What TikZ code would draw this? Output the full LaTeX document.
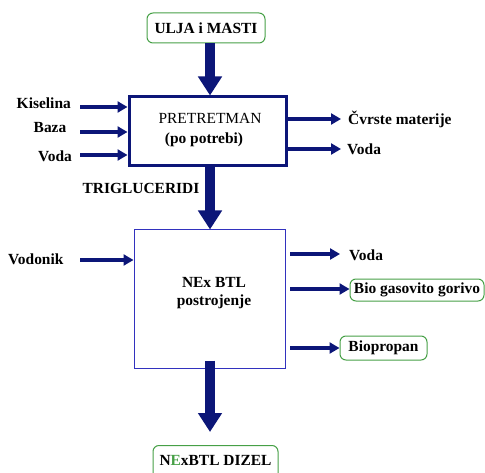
\documentclass[tikz,border=0pt]{standalone}
\usepackage{fontspec}
\setmainfont{Liberation Serif}
\usetikzlibrary{arrows.meta}
\definecolor{navy}{RGB}{12,22,120}
\definecolor{grn}{RGB}{70,160,70}
\definecolor{boxblue}{RGB}{50,50,190}
\begin{document}
\begin{tikzpicture}[x=1bp,y=-1bp,
  font=\fontsize{15.5}{18}\selectfont\bfseries,
  thinarrow/.style={navy, line width=4bp, -{Triangle[length=10bp,width=11bp]}},
  bigarrow/.style={navy, line width=10bp, -{Triangle[length=19bp,width=23bp]}},
  greenbox/.style={draw=grn, rounded corners=6bp, line width=1bp, inner sep=0pt},
  lbl/.style={inner sep=0pt}]
\useasboundingbox (0,0) rectangle (485,473);

% top input
\node[greenbox, minimum width=118bp, minimum height=30bp] (ulja) at (206,28) {ULJA i MASTI};

% pretreatment box
\node[draw=navy, line width=3bp, minimum width=157bp, minimum height=69bp] (pre) at (207.5,131.5) {};
\node[lbl] (pretxt) at (210,118) {\mdseries PRETRETMAN};
\node[lbl] (popot) at (204,140) {(po potrebi)};

% left inputs
\node[lbl, anchor=east] (kis) at (71,103) {Kiselina};
\node[lbl] (baza) at (50,128) {Baza};
\node[lbl] (voda1) at (55,156) {Voda};
\coordinate (k0) at (80,107);
\coordinate (b0) at (80,132);
\coordinate (v0) at (80,155);
\draw[thinarrow] (k0) -- (k0 -| pre.west);
\draw[thinarrow] (b0) -- (b0 -| pre.west);
\draw[thinarrow] (v0) -- (v0 -| pre.west);

% right outputs
\node[lbl, anchor=west] (cvrste) at (348,119) {Čvrste materije};
\node[lbl, anchor=west] (voda2) at (347,149) {Voda};
\draw[thinarrow] (pre.east |- cvrste.west) -- ([xshift=-7bp]cvrste.west);
\draw[thinarrow] (pre.east |- voda2.west) -- ([xshift=-6bp]voda2.west);

% top arrow
\draw[bigarrow] (ulja.south -| 210,0) -- (pre.north -| 210,0);

% triglyceride arrow
\node[lbl] (trig) at (141,188) {TRIGLUCERIDI};

% NEx BTL plant
\node[draw=boxblue, line width=1bp, minimum width=151bp, minimum height=138bp] (btl) at (209.5,299) {};
\node[lbl] (btl1) at (214,282) {NEx BTL};
\node[lbl] (btl2) at (214,302) {postrojenje};
\draw[bigarrow] (pre.south -| 210,0) -- (btl.north -| 210,0);

% hydrogen input
\node[lbl, anchor=west] (vodonik) at (8,259) {Vodonik};
\coordinate (h0) at (80,260);
\draw[thinarrow] (h0) -- (h0 -| btl.west);

% outputs of plant
\node[lbl, anchor=west] (voda3) at (349,255) {Voda};
\node[greenbox, minimum width=134bp, minimum height=22bp] (bio) at (417,290) {Bio gasovito gorivo};
\node[greenbox, minimum width=87bp, minimum height=24bp] (biop) at (383.5,348) {Biopropan};
\coordinate (o1) at (290,254);
\coordinate (o2) at (290,289);
\coordinate (o3) at (290,348);
\draw[thinarrow] (o1) -- (o1 -| 340,0);
\draw[thinarrow] (o2) -- (o2 -| bio.west);
\draw[thinarrow] (o3) -- (o3 -| biop.west);

% bottom output
\node[greenbox, minimum width=125bp, minimum height=36bp, anchor=north] (dizel) at (215.5,445) {};
\node[lbl] (diztxt) at (215.5,460) {N{\color{grn}E}xBTL DIZEL};
\draw[bigarrow] ([yshift=8bp]btl.south -| 210,0) -- (210,432);
\end{tikzpicture}
\end{document}
